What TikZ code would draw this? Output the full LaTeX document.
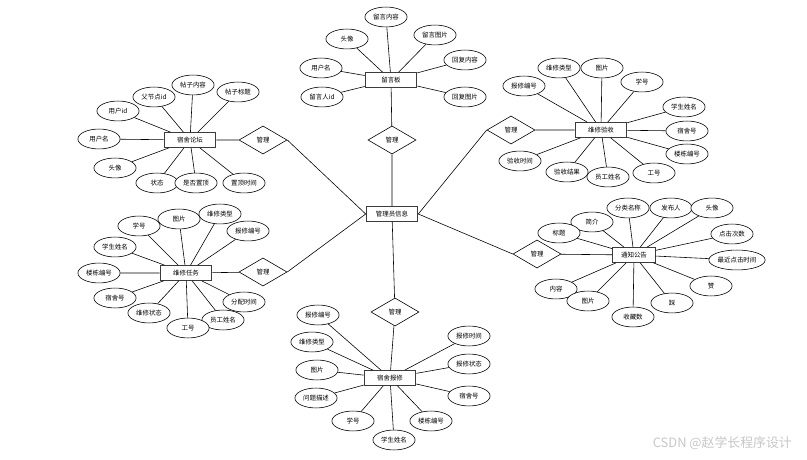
\documentclass[tikz,border=0pt]{standalone}
\definecolor{erdark}{RGB}{60,60,60}
\definecolor{ermark}{RGB}{200,200,200}
\usepackage{fontspec}
\setmainfont{Noto Sans CJK SC}
\usepackage{tikz}
\usetikzlibrary{shapes.geometric}

\begin{document}
\begin{tikzpicture}[x=0.03cm, y=-0.03cm,
    entbox/.style={draw=erdark, line width=0.9pt, fill=white, minimum width=44pt, minimum height=12.5pt, inner sep=1pt, font=\fontsize{5.5}{6}\selectfont},
    attr/.style={ellipse, draw=black, line width=0.5pt, fill=white, minimum width=36pt, minimum height=17pt, inner sep=0.5pt, font=\fontsize{5.5}{6}\selectfont},
    relshape/.style={diamond, draw=black, line width=0.5pt, fill=white, aspect=1.7, minimum width=41pt, minimum height=24pt, inner sep=0pt, font=\fontsize{5.5}{6}\selectfont},
    link/.style={draw=black, line width=0.5pt}]
  \useasboundingbox (0,0) rectangle (807,460);
  \fill[white] (0,0) rectangle (807,460);

  % entities
  \node[entbox] (mgr) at (392,214) {管理员信息};
  \node[entbox] (board) at (391,80) {留言板};
  \node[entbox] (forum) at (190,140) {宿舍论坛};
  \node[entbox] (check) at (601,130) {维修验收};
  \node[entbox] (task) at (186,273) {维修任务};
  \node[entbox, minimum width=36pt] (notice) at (634,255) {通知公告};
  \node[entbox] (repair) at (390,378) {宿舍报修};

  % relations
  \node[relshape] (rboard) at (392,140) {管理};
  \node[relshape] (rforum) at (263,140) {管理};
  \node[relshape] (rcheck) at (511,130) {管理};
  \node[relshape] (rtask) at (263,272) {管理};
  \node[relshape] (rnotice) at (537,254) {管理};
  \node[relshape] (rrepair) at (395,312) {管理};

  \draw[link] (mgr) -- (rboard) -- (board);
  \draw[link] (mgr.west) -- (rforum.east) (rforum) -- (forum);
  \draw[link] (mgr.east) -- (rcheck.west) (rcheck) -- (check);
  \draw[link] (mgr.west) -- (rtask.east) (rtask) -- (task);
  \draw[link] (mgr.east) -- (rnotice.west) (rnotice) -- (notice);
  \draw[link] (mgr) -- (rrepair) -- (repair);

  % 留言板
  \node[attr] (b1) at (386,17) {留言内容};
  \node[attr] (b2) at (347,39) {头像};
  \node[attr] (b3) at (435,35) {留言图片};
  \node[attr] (b4) at (321,68) {用户名};
  \node[attr] (b5) at (465,60) {回复内容};
  \node[attr] (b6) at (322,97) {留言人id};
  \node[attr] (b7) at (465,97) {回复图片};
  \draw[link] (board) -- (b1) (board) -- (b2) (board) -- (b3) (board) -- (b4)
    (board) -- (b5) (board) -- (b6) (board) -- (b7);

  % 宿舍论坛
  \node[attr] (f1) at (193,85) {帖子内容};
  \node[attr] (f2) at (238,92) {帖子标题};
  \node[attr] (f3) at (154,97) {父节点id};
  \node[attr] (f4) at (118,111) {用户id};
  \node[attr] (f5) at (99,139) {用户名};
  \node[attr] (f6) at (115,168) {头像};
  \node[attr] (f7) at (157,183) {状态};
  \node[attr] (f8) at (196,183) {是否置顶};
  \node[attr] (f9) at (244,183) {置顶时间};
  \draw[link] (forum) -- (f1) (forum) -- (f2) (forum) -- (f3) (forum) -- (f4)
    (forum) -- (f5) (forum) -- (f6) (forum) -- (f7) (forum) -- (f8) (forum) -- (f9);

  % 维修验收
  \node[attr] (c1) at (559,68) {维修类型};
  \node[attr] (c2) at (602,68) {图片};
  \node[attr] (c3) at (642,82) {学号};
  \node[attr] (c4) at (524,86) {报修编号};
  \node[attr] (c5) at (684,107) {学生姓名};
  \node[attr] (c6) at (687,131) {宿舍号};
  \node[attr] (c7) at (687,154) {楼栋编号};
  \node[attr] (c8) at (520,161) {验收时间};
  \node[attr] (c9) at (567,172) {验收结果};
  \node[attr] (c10) at (608,177) {员工姓名};
  \node[attr] (c11) at (654,173) {工号};
  \draw[link] (check) -- (c1) (check) -- (c2) (check) -- (c3) (check) -- (c4)
    (check) -- (c5) (check) -- (c6) (check) -- (c7) (check) -- (c8)
    (check) -- (c9) (check) -- (c10) (check) -- (c11);

  % 维修任务
  \node[attr] (t1) at (179,219) {图片};
  \node[attr] (t2) at (220,214) {维修类型};
  \node[attr] (t3) at (139,226) {学号};
  \node[attr] (t4) at (248,231) {报修编号};
  \node[attr] (t5) at (115,247) {学生姓名};
  \node[attr] (t6) at (99,273) {楼栋编号};
  \node[attr] (t7) at (115,298) {宿舍号};
  \node[attr] (t8) at (149,313) {维修状态};
  \node[attr] (t9) at (244,302) {分配时间};
  \node[attr] (t10) at (223,320) {员工姓名};
  \node[attr] (t11) at (188,328) {工号};
  \draw[link] (task) -- (t1) (task) -- (t2) (task) -- (t3) (task) -- (t4)
    (task) -- (t5) (task) -- (t6) (task) -- (t7) (task) -- (t8)
    (task) -- (t9) (task) -- (t10) (task) -- (t11);

  % 通知公告
  \node[attr] (n1) at (628,208) {分类名称};
  \node[attr] (n2) at (671,208) {发布人};
  \node[attr] (n3) at (712,208) {头像};
  \node[attr] (n4) at (592,222) {简介};
  \node[attr] (n5) at (559,233) {标题};
  \node[attr] (n6) at (732,234) {点击次数};
  \node[attr] (n7) at (737,260) {最近点击时间};
  \node[attr] (n8) at (711,286) {赞};
  \node[attr] (n9) at (556,289) {内容};
  \node[attr] (n10) at (588,301) {图片};
  \node[attr] (n11) at (672,303) {踩};
  \node[attr] (n12) at (633,317) {收藏数};
  \draw[link] (notice) -- (n1) (notice) -- (n2) (notice) -- (n3) (notice) -- (n4)
    (notice) -- (n5) (notice) -- (n6) (notice) -- (n7) (notice) -- (n8)
    (notice) -- (n9) (notice) -- (n10) (notice) -- (n11) (notice) -- (n12);

  % 宿舍报修
  \node[attr] (r1) at (318,315) {报修编号};
  \node[attr] (r2) at (469,336) {报修时间};
  \node[attr] (r3) at (312,342) {维修类型};
  \node[attr] (r4) at (469,364) {报修状态};
  \node[attr] (r5) at (317,370) {图片};
  \node[attr] (r6) at (469,396) {宿舍号};
  \node[attr] (r7) at (316,398) {问题描述};
  \node[attr] (r8) at (353,421) {学号};
  \node[attr] (r9) at (431,421) {楼栋编号};
  \node[attr] (r10) at (394,440) {学生姓名};
  \draw[link] (repair) -- (r1) (repair) -- (r2) (repair) -- (r3) (repair) -- (r4)
    (repair) -- (r5) (repair) -- (r6) (repair) -- (r7) (repair) -- (r8)
    (repair) -- (r9) (repair) -- (r10);

  \node[anchor=east, text=ermark, font=\fontsize{11}{12}\selectfont] (mark) at (796,443) {CSDN @赵学长程序设计};
\end{tikzpicture}
\end{document}
